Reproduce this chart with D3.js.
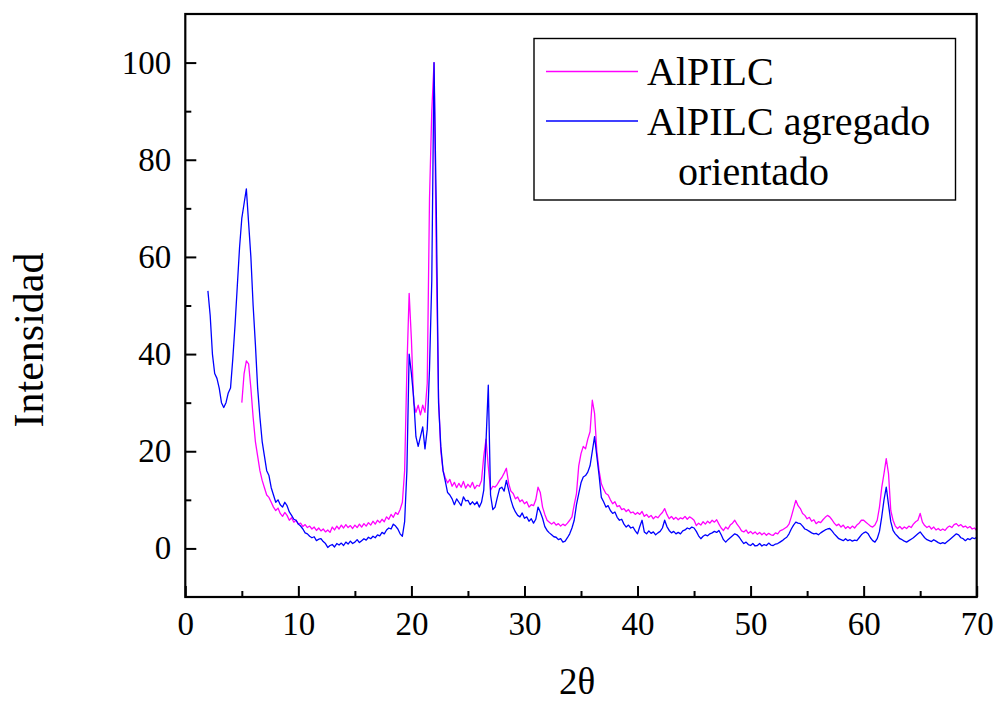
<!DOCTYPE html>
<html>
<head>
<meta charset="utf-8">
<script src="https://cdn.jsdelivr.net/npm/d3@7"></script>
<style>
  html, body { margin: 0; padding: 0; background: #fff; }
  svg { display: block; }
  text { font-family: "Liberation Serif", "Times New Roman", serif; fill: #000; }
</style>
</head>
<body>
<svg id="chart" width="995" height="702"></svg>
<script>
// ---------- data ----------
const seriesNames = ["AlPILC", "AlPILC agregado", "orientado"];
const xTickLabels = [0, 10, 20, 30, 40, 50, 60, 70];
const yTickLabels = [0, 20, 40, 60, 80, 100];
const thetaStep = 0.2;          // 2θ sampling of the diffractograms
const pinkStart = 5.0;          // AlPILC first 2θ
const blueStart = 2.0;          // AlPILC agregado orientado first 2θ

// AlPILC (magenta), 2θ = 5.0 … 70.0, step 0.2
const alpilc = [
  30, 36, 38.6, 38, 33,
  27, 22, 19, 16, 14,
  12.5, 11, 10.5, 9.5, 8.5,
  7.8, 8.3, 7.2, 6.6, 7.4,
  6.8, 5.8, 6.3, 5.4, 5.8,
  5.0, 5.2, 4.5, 4.9, 4.3,
  4.6, 4.0, 4.4, 3.7, 4.2,
  3.6, 4.0, 3.4, 3.8, 3.3,
  4.4, 3.8, 4.6, 4.0, 4.8,
  4.2, 4.9, 4.3, 4.7, 4.1,
  4.8, 4.3, 5.0, 4.4, 5.1,
  4.6, 5.3, 4.8, 5.6, 5.0,
  5.8, 5.3, 6.0, 5.5, 6.5,
  6.0, 7.0, 6.4, 7.4, 7.0,
  8.0, 9.5, 16, 37, 52.5,
  43, 30, 28, 29.5, 27.5,
  29.5, 28, 34, 72, 90,
  100, 60, 31, 20, 16,
  14.5, 13.5, 14.2, 12.8, 13.6,
  12.5, 13.4, 12.6, 13.8, 12.4,
  13.2, 12.6, 13.6, 12.3, 13.0,
  12.8, 14, 19, 22.5, 16.8,
  12, 12.8, 12.6, 13.2, 14,
  14.6, 15.5, 16.5, 13.4, 11.8,
  11.3, 10.2, 10.6, 9.6, 10.0,
  9.2, 9.6, 8.5, 9.0, 8.8,
  10, 12.6, 11.5, 8.5, 7.0,
  5.8, 5.4, 5.0, 5.4, 4.8,
  5.1, 4.6, 5.0, 4.7, 5.2,
  5.8, 6.5, 9, 11.3, 17,
  19.5, 21, 20.5, 22.5, 24,
  30.5, 27.8, 20, 16, 13.3,
  12.2, 11.3, 11.0, 10.0, 9.2,
  9.6, 8.6, 8.8, 8.0, 8.2,
  7.6, 8.0, 7.3, 7.5, 7.0,
  7.4, 7.0, 7.6, 6.6, 7.0,
  6.4, 6.8, 6.1, 6.6, 6.3,
  6.9, 7.4, 8.2, 7.0, 6.1,
  6.6, 6.0, 6.4, 5.9, 6.3,
  6.1, 6.6, 6.0, 6.5, 6.2,
  5.8, 4.7, 5.2, 4.8, 5.5,
  5.0, 5.6, 5.2, 5.8, 5.4,
  5.9, 5.0, 4.2, 3.7, 4.4,
  4.0, 4.8, 5.2, 5.8, 5.0,
  4.4, 3.6, 3.4, 3.8, 3.1,
  3.5, 3.0, 3.4, 2.9, 3.3,
  2.8, 3.2, 2.7, 3.1, 2.8,
  2.7, 3.2, 3.0, 3.6, 3.8,
  4.1, 4.4, 5.0, 6.5, 8.2,
  9.9, 8.8, 8.2, 7.2, 6.8,
  6.1, 6.4, 5.6, 5.9, 5.1,
  5.5, 5.3, 5.9, 6.4, 6.8,
  6.5, 5.9, 5.2, 4.7, 5.0,
  4.4, 4.8, 4.1, 4.5, 4.1,
  4.6, 4.2, 4.8, 5.2, 5.8,
  5.8, 5.4, 5.0, 4.6, 4.4,
  4.8, 5.8, 8.5, 12.5, 15.4,
  18.5, 15.4, 7.8, 5.8, 4.6,
  4.1, 4.5, 4.0, 4.4, 4.1,
  4.6, 4.3, 5.0, 5.5, 5.8,
  7.2, 5.4, 4.7, 4.3, 4.6,
  4.0, 4.4, 3.8, 4.1, 3.7,
  4.0, 3.7, 4.3, 4.6, 4.3,
  4.9, 5.1, 4.6, 4.9, 4.4,
  4.6, 4.2, 4.5, 4.0, 4.2,
  3.7
];

// AlPILC agregado orientado (blue), 2θ = 2.0 … 70.0, step 0.2
const alpilcOrient = [
  53, 48, 40, 36, 35,
  33, 30, 29, 30, 32,
  33, 39, 46, 54, 62,
  68, 71, 74, 67, 60,
  50, 42, 33, 27, 22,
  19, 16, 15, 12.5, 11,
  9.5, 10, 9, 8.5, 9.5,
  8.8, 7.5, 6.8, 6, 5.8,
  5, 4.6, 4, 3.2, 3.0,
  2.5, 2.2, 2.4, 1.6, 1.9,
  2.0, 1.4, 1.0, 0.2, 0.6,
  0.8, 0.3, 1.0, 0.7, 1.1,
  0.6, 1.3, 0.9, 1.5, 1.0,
  1.3, 1.8, 1.2, 1.6, 2.0,
  1.7, 2.3, 2.0, 2.5, 2.2,
  2.8, 2.6, 3.3, 3.0, 3.8,
  4.2, 4.0, 5.0, 4.6, 4.0,
  3.0, 2.5, 5.5, 16, 40,
  36, 31, 23, 21, 23,
  25, 20.5, 24.5, 37, 55,
  100, 70, 30, 21, 16,
  13.8, 11.5, 11, 10.2, 9,
  10.2, 9.5, 8.8, 10.6, 9.8,
  9.9, 9.0, 9.6, 9.0, 9.6,
  8.5, 9.5, 12, 22, 33.6,
  11, 8, 8.5, 10.5, 12.3,
  12.6, 11.8, 14, 12, 10,
  8.5, 7.5, 6.8, 6.5, 7.3,
  6.2, 6.5, 5.6, 6.1, 5.2,
  6.0, 8.5, 7.5, 6.2, 4.5,
  3.7, 3.2, 2.8, 2.4, 2.3,
  1.8, 2.0, 1.3, 1.5, 2.2,
  3.0, 4.2, 5.8, 9, 11.3,
  13.5, 14.7, 15, 15.7, 17,
  20, 23, 19, 15, 10.5,
  9.6, 8.5, 8.8, 7.8, 7.2,
  7.5, 6.4, 5.8, 6.0, 5.0,
  4.4, 4.8, 4.2, 4.4, 3.6,
  3.0, 4.5, 5.8, 3.4, 3.0,
  3.6, 3.1, 3.4, 2.8, 3.2,
  3.5, 4.2, 5.8, 4.5, 3.7,
  3.2, 3.5, 3.0, 3.3, 3.0,
  3.6, 3.8, 4.2, 4.0, 4.4,
  4.2, 3.5, 2.6, 2.0, 2.5,
  2.8, 2.6, 3.0, 3.2, 3.5,
  3.3, 3.7, 2.8, 1.8, 1.3,
  1.8, 2.2, 2.6, 3.0, 2.8,
  2.3, 1.6, 1.0, 1.3, 0.8,
  0.6, 1.0, 0.5, 0.6, 1.0,
  0.5, 0.8, 0.6, 1.1, 0.7,
  0.6, 0.9, 1.0, 1.3, 1.6,
  2.0, 2.3, 3.0, 4.0, 4.8,
  5.4, 5.2, 5.1, 4.6, 4.0,
  3.8, 3.5, 3.2, 3.0, 3.1,
  2.8, 3.2, 3.5, 3.8, 4.0,
  4.1, 3.6, 3.0, 2.5, 2.0,
  1.8, 1.6, 2.0, 1.6, 1.8,
  1.5, 1.7, 1.6, 2.2, 2.8,
  3.2, 3.4, 3.0, 2.2, 1.6,
  1.3, 2.0, 3.5, 6.5, 10,
  12.6, 9, 5.5, 3.7, 3.0,
  2.5, 2.0, 1.8, 1.5, 1.3,
  1.6, 1.9, 2.2, 2.6, 3.0,
  3.4, 2.8, 2.2, 1.8, 1.6,
  1.4, 1.8, 1.5, 1.2, 1.0,
  1.2, 1.0, 1.4, 1.8, 2.2,
  2.6, 3.0, 2.8, 2.2, 2.0,
  1.6, 2.0, 1.8, 2.2, 2.0,
  2.3
];

// ---------- layout ----------
const svg = d3.select("#chart");
const plotL = 185.3, plotR = 976.7, plotT = 14, plotB = 597;

const x = d3.scaleLinear().domain([0, 70]).range([plotL, plotR]);
const y = d3.scaleLinear().domain([-10, 110]).range([plotB, plotT]);

const toPoints = (vals, start) => vals.map((v, i) => [+(start + i * thetaStep).toFixed(1), v]);
const pinkPts = toPoints(alpilc, pinkStart);
const bluePts = toPoints(alpilcOrient, blueStart);

svg.append("defs").append("clipPath").attr("id", "plotclip")
  .append("rect").attr("x", plotL).attr("y", plotT).attr("width", plotR - plotL).attr("height", plotB - plotT);

const line = d3.line().x(d => x(d[0])).y(d => y(d[1]));

const plot = svg.append("g").attr("clip-path", "url(#plotclip)");
plot.append("path").datum(pinkPts).attr("d", line)
  .attr("fill", "none").attr("stroke", "#ff00ff").attr("stroke-width", 1.3).attr("stroke-linejoin", "round");
plot.append("path").datum(bluePts).attr("d", line)
  .attr("fill", "none").attr("stroke", "#0000ff").attr("stroke-width", 1.3).attr("stroke-linejoin", "round");

// ---------- axes ----------
const fontTick = 33;
const xMinor = d3.range(5, 70, 10);
const yMinor = d3.range(-10, 110, 20).filter(v => v > -10);

const gx = svg.append("g").attr("transform", `translate(0,${plotB})`)
  .call(d3.axisBottom(x).tickValues(xTickLabels).tickSize(-11).tickPadding(15).tickFormat(d3.format("d")));
gx.select(".domain").remove();
gx.selectAll(".tick line").attr("stroke", "#000").attr("stroke-width", 2);
gx.selectAll(".tick text").style("font-size", fontTick + "px").style("font-family", '"Liberation Serif", serif').attr("fill", "#000");

const gxm = svg.append("g").attr("transform", `translate(0,${plotB})`)
  .call(d3.axisBottom(x).tickValues(xMinor).tickSize(-6).tickFormat(""));
gxm.select(".domain").remove();
gxm.selectAll(".tick line").attr("stroke", "#000").attr("stroke-width", 2);

const gy = svg.append("g").attr("transform", `translate(${plotL},0)`)
  .call(d3.axisLeft(y).tickValues(yTickLabels).tickSize(-11).tickPadding(14).tickFormat(d3.format("d")));
gy.select(".domain").remove();
gy.selectAll(".tick line").attr("stroke", "#000").attr("stroke-width", 2);
gy.selectAll(".tick text").style("font-size", fontTick + "px").style("font-family", '"Liberation Serif", serif').attr("fill", "#000");

const gym = svg.append("g").attr("transform", `translate(${plotL},0)`)
  .call(d3.axisLeft(y).tickValues(yMinor).tickSize(-6).tickFormat(""));
gym.select(".domain").remove();
gym.selectAll(".tick line").attr("stroke", "#000").attr("stroke-width", 2);

// frame
svg.append("rect").attr("x", plotL).attr("y", plotT).attr("width", plotR - plotL).attr("height", plotB - plotT)
  .attr("fill", "none").attr("stroke", "#000").attr("stroke-width", 2.2);

// axis titles
svg.append("text").attr("x", 577).attr("y", 694).attr("text-anchor", "middle")
  .style("font-size", "37px").text("2θ");
svg.append("text").attr("transform", "translate(43,340) rotate(-90)").attr("text-anchor", "middle")
  .style("font-size", "42px").text("Intensidad");

// ---------- legend ----------
const lg = svg.append("g");
lg.append("rect").attr("x", 534).attr("y", 38.5).attr("width", 421.5).attr("height", 161.5)
  .attr("fill", "#fff").attr("stroke", "#000").attr("stroke-width", 1.4);
lg.append("line").attr("x1", 546).attr("x2", 638).attr("y1", 71.5).attr("y2", 71.5)
  .attr("stroke", "#ff00ff").attr("stroke-width", 1.3);
lg.append("line").attr("x1", 546).attr("x2", 638).attr("y1", 121).attr("y2", 121)
  .attr("stroke", "#0000ff").attr("stroke-width", 1.3);
lg.append("text").attr("x", 647).attr("y", 85).style("font-size", "40px").text(seriesNames[0]);
lg.append("text").attr("x", 647).attr("y", 135).style("font-size", "40px").text(seriesNames[1]);
lg.append("text").attr("x", 678).attr("y", 185).style("font-size", "40px").text(seriesNames[2]);
</script>
</body>
</html>
